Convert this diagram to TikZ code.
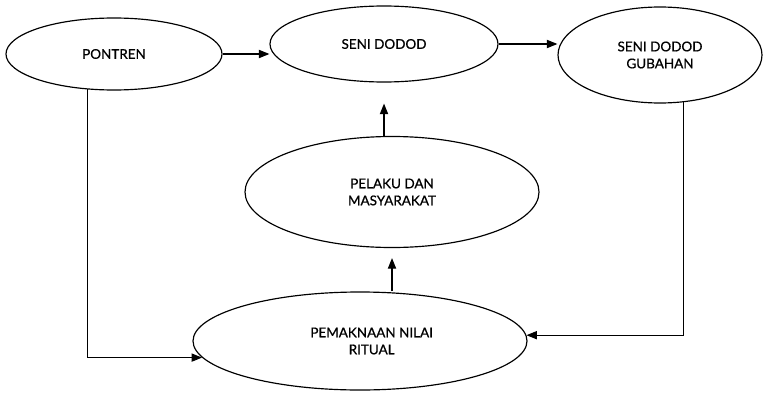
\documentclass[tikz,border=0pt]{standalone}
\usepackage{fontspec}
\setmainfont{Lato}[FakeBold=0.7]
\usetikzlibrary{shapes.geometric,arrows.meta}
\begin{document}
\begin{tikzpicture}[x=0.03cm,y=-0.03cm,
  oval/.style={draw, ellipse, line width=1pt, inner sep=0pt, align=center,
    font=\fontsize{11.5}{14.5}\selectfont},
  arr/.style={line width=1pt, -{Triangle[length=9pt,width=7pt]}},
  ln/.style={line width=1pt}]
\useasboundingbox (0,0) rectangle (763,393);
\node[oval, minimum width={216*0.03cm}, minimum height={72*0.03cm}] (pon) at (114,54) {PONTREN};
\node[oval, minimum width={228*0.03cm}, minimum height={76*0.03cm}] (seni) at (384,44) {SENI DODOD};
\node[oval, minimum width={204*0.03cm}, minimum height={96*0.03cm}] (gub) at (660,55) {SENI DODOD\\GUBAHAN};
\node[oval, minimum width={294*0.03cm}, minimum height={111*0.03cm}] (pel) at (392,192) {PELAKU DAN\\MASYARAKAT};
\node[oval, minimum width={334*0.03cm}, minimum height={98*0.03cm}] (pem) at (360,341) {\hspace*{0.7cm}PEMAKNAAN NILAI\\\hspace*{0.7cm}RITUAL};
\draw[arr] (pon.east) -- (seni.west |- pon.east);
\draw[arr] (seni.east) -- (seni.east -| gub.west);
\draw[arr, shorten >={21*0.03cm}] (pel.north -| seni.south) -- (seni.south);
\draw[arr, shorten >={10*0.03cm}] (pel.south |- pem.north) -- (pel.south);
\draw[arr] (pon.233) |- (pem.186);
\draw[arr] (gub.296) |- (pem.2);
\end{tikzpicture}
\end{document}
